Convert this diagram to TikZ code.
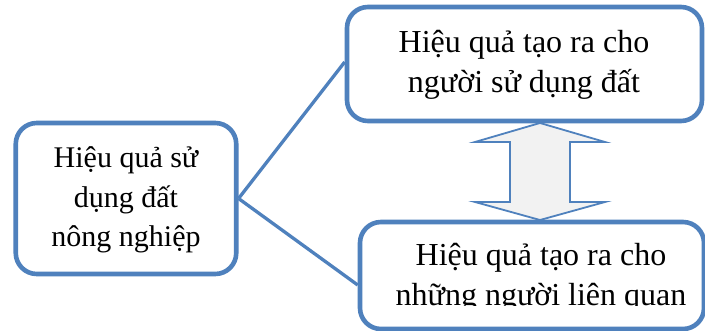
\documentclass[tikz,border=0pt]{standalone}
\usepackage{fontspec}
\setmainfont{Liberation Serif}
\definecolor{boxblue}{HTML}{4F81BD}
\definecolor{arrowfill}{HTML}{F2F2F2}
\tikzset{
  box/.style={draw=boxblue, line width=4.6pt, rounded corners=21pt, fill=white, inner sep=0pt},
  link/.style={draw=boxblue, line width=3.3pt},
  dblarrow/.style={draw=boxblue, line width=1.8pt, fill=arrowfill, line join=miter},
  txt/.style={inner sep=0pt, anchor=base, font=\fontsize{32}{40}\selectfont},
  txtsmall/.style={inner sep=0pt, anchor=base, font=\fontsize{30}{39.5}\selectfont}
}
\begin{document}
\begin{tikzpicture}[x=1pt,y=-1pt]
\useasboundingbox (0,0) rectangle (705,331);
\fill[white] (0,0) rectangle (705,331);
% boxes
\node[box, minimum width=220.5pt, minimum height=151pt] (L) at (126,198.5) {};
\node[box, minimum width=355pt, minimum height=114pt] (T) at (524.5,64) {};
\node[box, minimum width=344pt, minimum height=107pt] (B) at (532,275.5) {};
% connectors
\draw[link] (L.east) -- ([yshift=2pt]T.west);
\draw[link] (L.east) -- ([yshift=-9.5pt]B.west);
% double arrow
\coordinate (a1) at (540,123);
\coordinate (a2) at (605,142);
\coordinate (a3) at (570,142);
\coordinate (a4) at (570,202);
\coordinate (a5) at (605,202);
\coordinate (a6) at (540,220);
\coordinate (a7) at (475,202);
\coordinate (a8) at (510,202);
\coordinate (a9) at (510,142);
\coordinate (a10) at (475,142);
\path[dblarrow] (a1) -- (a2) -- (a3) -- (a4) -- (a5) -- (a6) -- (a7) -- (a8) -- (a9) -- (a10) -- cycle;
% texts
\node[txtsmall] (Ltxt) at (126,168) {\begin{tabular}[t]{@{}c@{}}Hiệu quả sử\\dụng đất\\nông nghiệp\end{tabular}};
\node[txt] (Ttxt) at (524,53) {\begin{tabular}[t]{@{}c@{}}Hiệu quả tạo ra cho\\người sử dụng đất\end{tabular}};
\begin{scope}
\clip (362,224) rectangle (705,306);
\node[txt] (Btxt) at (541,266) {\begin{tabular}[t]{@{}c@{}}Hiệu quả tạo ra cho\\những người liên quan\end{tabular}};
\end{scope}
\end{tikzpicture}
\end{document}
